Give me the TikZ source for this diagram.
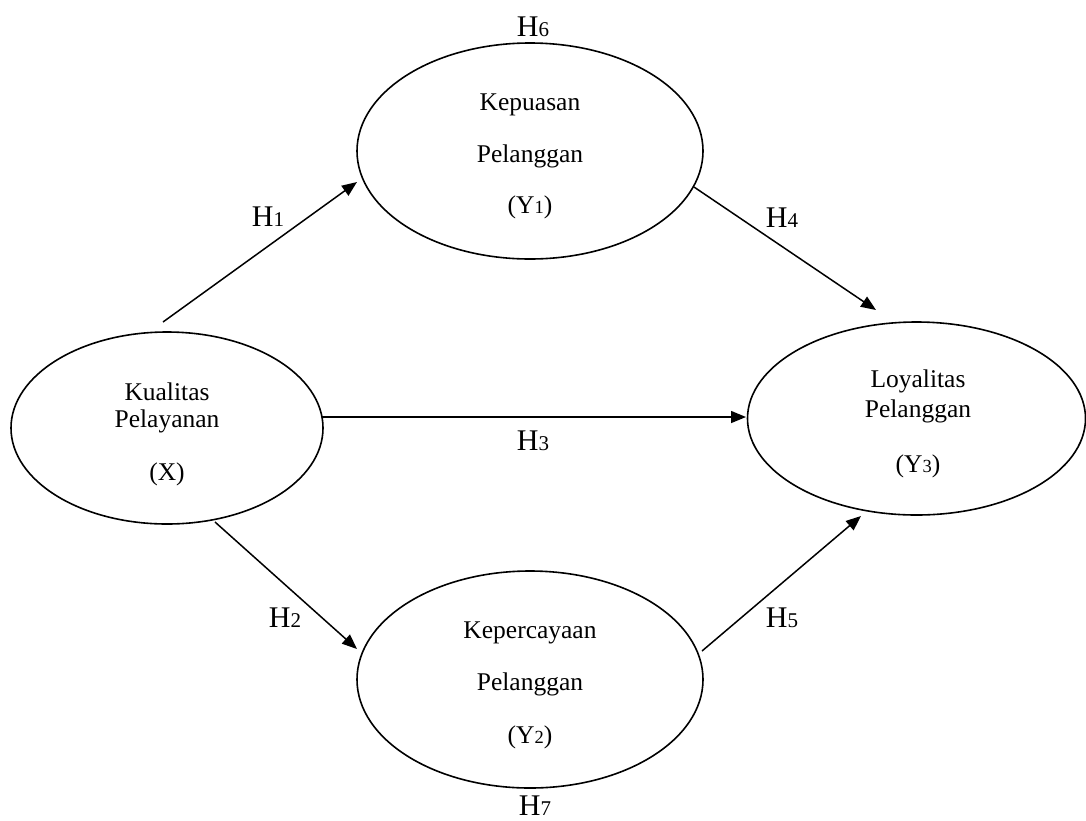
\documentclass[tikz,border=0pt]{standalone}
\usepackage{fontspec}
\setmainfont{Liberation Serif}
\usetikzlibrary{shapes.geometric,arrows.meta}
\newcommand\hd[1]{{\fontsize{21}{21}\selectfont #1}}
\newcommand\yd[1]{{\fontsize{18.5}{18.5}\selectfont #1}}
\begin{document}
\begin{tikzpicture}[x=1pt,y=-1pt,
  latent/.style={draw,ellipse,line width=1.6pt,inner sep=0pt},
  vtext/.style={anchor=base,font=\fontsize{25.5}{25.5}\selectfont,inner sep=0pt},
  hlab/.style={anchor=base,font=\fontsize{30}{30}\selectfont,inner sep=0pt},
  path/.style={line width=1.5pt,-{Triangle[length=15pt,width=12pt]}}]
\useasboundingbox (0,0) rectangle (1086,820);
% ellipses
\node[latent,minimum width=346pt,minimum height=216pt] (y1) at (530,151) {};
\node[latent,minimum width=346pt,minimum height=217pt] (y2) at (530,679.5) {};
\node[latent,minimum width=312pt,minimum height=192pt] (x) at (167,428) {};
\node[latent,minimum width=338pt,minimum height=193pt] (y3) at (916.5,418.5) {};
% texts
\node[vtext] (y1a) at (530,110) {Kepuasan};
\node[vtext] (y1b) at (530,162) {Pelanggan};
\node[vtext] (y1c) at (530,213) {(Y\yd{1})};
\node[vtext] (y2a) at (530,638) {Kepercayaan};
\node[vtext] (y2b) at (530,690) {Pelanggan};
\node[vtext] (y2c) at (530,743) {(Y\yd{2})};
\node[vtext] (xa) at (167,400) {Kualitas};
\node[vtext] (xb) at (167,427) {Pelayanan};
\node[vtext] (xc) at (167,480) {(X)};
\node[vtext] (y3a) at (918,387) {Loyalitas};
\node[vtext] (y3b) at (918,417) {Pelanggan};
\node[vtext] (y3c) at (918,472) {(Y\yd{3})};
% hypothesis labels
\node[hlab] (h6) at (533,36) {H\hd{6}};
\node[hlab] (h1) at (268,226) {H\hd{1}};
\node[hlab] (h4) at (782,227) {H\hd{4}};
\node[hlab] (h3) at (533,450) {H\hd{3}};
\node[hlab] (h2) at (285,627) {H\hd{2}};
\node[hlab] (h5) at (782,627) {H\hd{5}};
\node[hlab] (h7) at (535,815) {H\hd{7}};
% arrow end points
\coordinate (s1) at (163,322);  \coordinate (t1) at (357,182);
\coordinate (s4) at (694,187);  \coordinate (t4) at (876,310);
\coordinate (s3) at (322,417);  \coordinate (t3) at (746,417);
\coordinate (s2) at (215,522);  \coordinate (t2) at (357,649);
\coordinate (s5) at (702,651);  \coordinate (t5) at (861,516);
\draw[path] (s1) -- (t1);
\draw[path] (s4) -- (t4);
\draw[path] (s3) -- (t3);
\draw[path] (s2) -- (t2);
\draw[path] (s5) -- (t5);
\end{tikzpicture}
\end{document}
